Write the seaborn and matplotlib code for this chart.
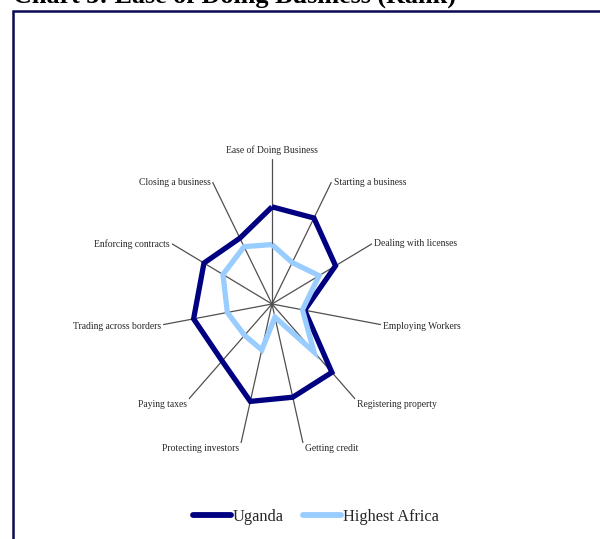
import numpy as np
import pandas as pd
import matplotlib
matplotlib.use("Agg")
import matplotlib.pyplot as plt
from matplotlib.patches import Rectangle
from matplotlib.lines import Line2D
import seaborn as sns

# Doing Business indicators (rank), clockwise from the top
categories = [
    "Ease of Doing Business", "Starting a business", "Dealing with licenses",
    "Employing Workers", "Registering property", "Getting credit",
    "Protecting investors", "Paying taxes", "Trading across borders",
    "Enforcing contracts", "Closing a business",
]
uganda = [134, 141, 127, 60, 144, 134, 140, 120, 144, 136, 108]
highest_africa = [82, 68, 94, 56, 101, 19, 66, 66, 82, 98, 94]
series_names = ["Uganda", "Highest Africa"]
series_colors = ["#000080", "#99CCFF"]
r_max = 200

sns.set_theme(style="white")
plt.rcParams["font.family"] = ["Liberation Serif", "DejaVu Serif"]

fig = plt.figure(figsize=(6.0, 5.39), dpi=100)
fig.patch.set_facecolor("white")

# chart frame
fig.patches.append(Rectangle((13 / 600, -0.05), 1.0, 1 - 11 / 539 + 0.05,
                             transform=fig.transFigure, fill=False,
                             edgecolor="#0b0b55", linewidth=1.8))
fig.text(13 / 600, 1 - 3 / 539, "Chart 3: Ease of Doing Business (Rank)",
         fontsize=18.8, fontweight="bold", ha="left", va="baseline",
         color="black")

ax = fig.add_axes([162 / 600, 90 / 539, 220 / 600, 290 / 539], projection="polar")
ax.set_aspect("auto")
ax.set_theta_zero_location("N")
ax.set_theta_direction(-1)

n = len(categories)
angles = np.arange(n) * 2 * np.pi / n

# long-form table, each polygon closed back at a full turn
rows = []
for name, vals in zip(series_names, [uganda, highest_africa]):
    for i in range(n):
        rows.append({"series": name, "theta": angles[i], "rank": vals[i]})
    rows.append({"series": name, "theta": 2 * np.pi, "rank": vals[0]})
df = pd.DataFrame(rows)

# spokes
for a in angles:
    ax.plot([a, a], [0, r_max], color="#505050", linewidth=0.9, zorder=1)

sns.lineplot(data=df, x="theta", y="rank", hue="series", palette=series_colors,
             hue_order=series_names, sort=False, estimator=None, units="series",
             linewidth=3.8, legend=False, ax=ax, zorder=3)
for line in ax.get_lines()[n:]:
    line.set_solid_joinstyle("miter")
    line.set_solid_capstyle("butt")

ax.set_ylim(0, r_max)
ax.set_xticks([])
ax.set_yticks([])
ax.grid(False)
ax.spines["polar"].set_visible(False)
ax.set_facecolor("none")
ax.set_xlabel("")
ax.set_ylabel("")

# category labels at the spoke ends
for a, lab in zip(angles, categories):
    s, c = np.sin(a), np.cos(a)
    if abs(s) < 1e-6:
        ax.annotate(lab, (a, r_max), xytext=(0, 3), textcoords="offset points",
                    ha="center", va="bottom", fontsize=6.9)
    else:
        dy = -3.8 if c < -0.5 else (-1.5 if c < 0 else 0)
        dx = 1.5 if s > 0 else -1.5
        ax.annotate(lab, (a, r_max), xytext=(dx, dy), textcoords="offset points",
                    ha="left" if s > 0 else "right", va="center", fontsize=6.9)

handles = [Line2D([0], [0], color=c, linewidth=4.2, solid_capstyle="round")
           for c in series_colors]
fig.legend(handles, series_names, loc="center", ncol=2,
           bbox_to_anchor=(316 / 600, 1 - 517 / 539), frameon=False,
           fontsize=11.8, handlelength=2.3, handletextpad=0.1,
           columnspacing=1.2)

fig.savefig("out.png", dpi=100, facecolor="white")
